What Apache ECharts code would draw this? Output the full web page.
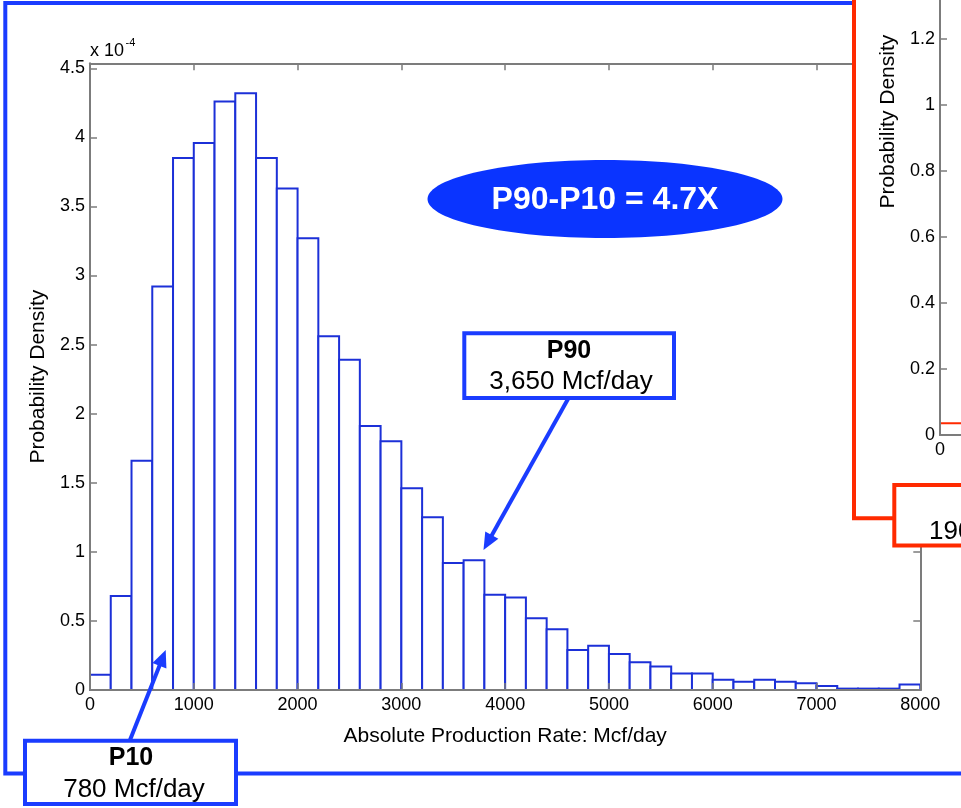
<!DOCTYPE html>
<html>
<head>
<meta charset="utf-8">
<script src="https://cdn.jsdelivr.net/npm/echarts@6/dist/echarts.min.js"></script>
<style>
  html, body { margin: 0; padding: 0; background: #ffffff; }
  #chart { width: 961px; height: 808px; }
</style>
</head>
<body>
<div id="chart"></div>
<script>
// Histogram bins: lower edge of each 200 Mcf/day bin
const binStart = [
  0, 200, 400, 600, 800, 1000, 1200, 1400, 1600, 1800,
  2000, 2200, 2400, 2600, 2800, 3000, 3200, 3400, 3600, 3800,
  4000, 4200, 4400, 4600, 4800, 5000, 5200, 5400, 5600, 5800,
  6000, 6200, 6400, 6600, 6800, 7000, 7200, 7400, 7600, 7800
];
const binWidth = 200;
// Probability density per bin, in units of 1e-4
const densityE4 = [
  0.11, 0.68, 1.66, 2.92, 3.85, 3.96, 4.26, 4.32, 3.85, 3.63,
  3.27, 2.56, 2.39, 1.91, 1.80, 1.46, 1.25, 0.92, 0.94, 0.69,
  0.67, 0.52, 0.44, 0.29, 0.32, 0.26, 0.20, 0.17, 0.12, 0.12,
  0.075, 0.06, 0.075, 0.06, 0.048, 0.029, 0.01, 0.01, 0.01, 0.04
];
const xTickValues = [0, 1000, 2000, 3000, 4000, 5000, 6000, 7000, 8000];
const yTickValues = [0, 0.5, 1, 1.5, 2, 2.5, 3, 3.5, 4, 4.5];

// Second (partially shown) panel
const insetX = [0, 0.05];
const insetY = [0.036, 0.036];
const insetYTicks = [0, 0.2, 0.4, 0.6, 0.8, 1, 1.2, 1.4, 1.6, 1.8];

// Annotation texts
const spreadText = 'P90-P10 = 4.7X';
const p90Text = ['P90', '3,650 Mcf/day'];
const p10Text = ['P10', '780 Mcf/day'];
const redBoxText = '190';
const xName = 'Absolute Production Rate: Mcf/day';
const yName = 'Probability Density';

const FONT = '"Liberation Sans", Arial, Helvetica, sans-serif';
const AXIS_GRAY = '#7c7c7c';
const BAR_BLUE = '#1c30d8';
const FRAME_BLUE = '#1a3cff';
const FILL_BLUE = '#0a34ff';
const RED = '#ff2a00';

const histData = binStart.map((s, i) => [s, s + binWidth, densityE4[i]]);
const insetData = insetX.map((x, i) => [x, insetY[i]]);

function isTick(list, v) {
  return list.some(t => Math.abs(t - v) < 1e-6);
}

function arrow(x1, y1, x2, y2, color) {
  const dx = x2 - x1, dy = y2 - y1, len = Math.hypot(dx, dy);
  const ux = dx / len, uy = dy / len, px = -uy, py = ux;
  const headLen = 17, headHalf = 7.5;
  const bx = x2 - ux * headLen, by = y2 - uy * headLen;
  return [
    { type: 'line', z: 12, shape: { x1: x1, y1: y1, x2: bx + ux * 2, y2: by + uy * 2 },
      style: { stroke: color, lineWidth: 4 } },
    { type: 'polygon', z: 12,
      shape: { points: [[x2, y2], [bx + px * headHalf, by + py * headHalf], [bx - px * headHalf, by - py * headHalf]] },
      style: { fill: color } }
  ];
}

function txt(x, y, text, size, weight, color, align, z) {
  return {
    type: 'text', x: x, y: y, z: z,
    style: { text: text, fill: color, fontSize: size, fontWeight: weight, fontFamily: FONT,
             align: align, verticalAlign: 'middle' }
  };
}

const baseAxis = {
  axisLine: { show: true, onZero: false, lineStyle: { color: AXIS_GRAY, width: 2 } },
  axisTick: { show: true, inside: true, length: 7, lineStyle: { color: AXIS_GRAY, width: 1.5 } },
  splitLine: { show: false },
  z: 3
};

const chart = echarts.init(document.getElementById('chart'), null, { renderer: 'canvas', width: 961, height: 808 });

const option = {
  animation: false,
  backgroundColor: '#ffffff',
  grid: [
    { left: 90, top: 63.3, width: 830.3, height: 626.7, outerBoundsMode: 'none', containLabel: false },
    { left: 940, top: -191.7, width: 830.3, height: 626.7, outerBoundsMode: 'none', containLabel: false }
  ],
  xAxis: [
    Object.assign({}, baseAxis, {
      type: 'value', gridIndex: 0, position: 'bottom', min: 0, max: 8000, interval: 1000,
      axisLabel: { show: true, margin: 6, color: '#000', fontSize: 18, fontFamily: FONT,
                   formatter: v => isTick(xTickValues, v) ? String(v) : '' },
      name: xName, nameLocation: 'middle', nameGap: 36,
      nameTextStyle: { color: '#000', fontSize: 21, fontFamily: FONT }
    }),
    Object.assign({}, baseAxis, {
      type: 'value', gridIndex: 0, position: 'top', min: 0, max: 8000, interval: 1000,
      axisLabel: { show: false }
    }),
    Object.assign({}, baseAxis, {
      type: 'value', gridIndex: 1, position: 'bottom', min: 0, max: 1, interval: 0.2, z: 32,
      axisLabel: { show: true, margin: 6, color: '#000', fontSize: 18, fontFamily: FONT,
                   formatter: v => String(+v.toFixed(1)) }
    })
  ],
  yAxis: [
    Object.assign({}, baseAxis, {
      type: 'value', gridIndex: 0, position: 'left', min: 0, max: 4.536, interval: 0.5,
      axisLabel: { show: true, margin: 5, color: '#000', fontSize: 18, fontFamily: FONT,
                   formatter: v => isTick(yTickValues, v) ? String(+v.toFixed(2)) : '' },
      name: yName, nameLocation: 'middle', nameGap: 34,
      nameTextStyle: { color: '#000', fontSize: 21, fontFamily: FONT }
    }),
    Object.assign({}, baseAxis, {
      type: 'value', gridIndex: 0, position: 'right', min: 0, max: 4.536, interval: 0.5,
      axisLabel: { show: false }
    }),
    Object.assign({}, baseAxis, {
      type: 'value', gridIndex: 1, position: 'left', min: 0, max: 1.9, interval: 0.2, z: 32,
      axisLabel: { show: true, margin: 5, color: '#000', fontSize: 18, fontFamily: FONT,
                   formatter: v => isTick(insetYTicks, v) ? String(+v.toFixed(1)) : '' },
      name: yName, nameLocation: 'middle', nameGap: 34,
      nameTextStyle: { color: '#000', fontSize: 21, fontFamily: FONT }
    })
  ],
  series: [
    {
      type: 'custom',
      xAxisIndex: 0, yAxisIndex: 0,
      data: histData,
      encode: { x: [0, 1], y: 2 },
      clip: false,
      z: 2,
      renderItem: function (params, api) {
        const top = api.coord([api.value(0), api.value(2)]);
        const bottom = api.coord([api.value(1), 0]);
        return {
          type: 'rect',
          shape: { x: top[0], y: top[1], width: bottom[0] - top[0], height: bottom[1] - top[1] },
          style: { fill: '#ffffff', stroke: BAR_BLUE, lineWidth: 2 }
        };
      }
    },
    {
      type: 'line',
      xAxisIndex: 2, yAxisIndex: 2,
      data: insetData,
      symbol: 'none',
      z: 31,
      lineStyle: { color: RED, width: 2 }
    }
  ],
  graphic: {
    elements: [
      // outer frame of the left panel
      { type: 'rect', z: 1, shape: { x: 5.3, y: 3, width: 1100, height: 770.5 },
        style: { fill: null, stroke: FRAME_BLUE, lineWidth: 4 } },
      // axis exponent
      txt(90, 51.5, 'x 10', 18, 'normal', '#000', 'left', 5),
      txt(125.5, 43, '-4', 11, 'normal', '#000', 'left', 5),
      // spread ellipse
      { type: 'ellipse', z: 10, shape: { cx: 605, cy: 199, rx: 177.5, ry: 39 }, style: { fill: FILL_BLUE } },
      txt(605, 200, spreadText, 32, 'bold', '#ffffff', 'center', 11),
      // P90 call-out
      { type: 'rect', z: 10, shape: { x: 464.3, y: 333.3, width: 209.7, height: 64.7 },
        style: { fill: '#ffffff', stroke: FRAME_BLUE, lineWidth: 4 } },
      txt(569, 351, p90Text[0], 25, 'bold', '#000', 'center', 11),
      txt(571, 382, p90Text[1], 26, 'normal', '#000', 'center', 11),
      ...arrow(568, 399, 483.5, 550, FRAME_BLUE),
      // P10 call-out
      { type: 'rect', z: 10, shape: { x: 25, y: 740.7, width: 211, height: 63.3 },
        style: { fill: '#ffffff', stroke: FRAME_BLUE, lineWidth: 4 } },
      txt(131, 758.5, p10Text[0], 25, 'bold', '#000', 'center', 11),
      txt(134, 790, p10Text[1], 26, 'normal', '#000', 'center', 11),
      ...arrow(130, 740, 165.7, 650, FRAME_BLUE),
      // right-hand panel cover and frame
      { type: 'rect', z: 20, shape: { x: 854, y: -10, width: 200, height: 528.3 }, style: { fill: '#ffffff' } },
      { type: 'polyline', z: 21, shape: { points: [[854, -10], [854, 518.3], [894.3, 518.3]] },
        style: { stroke: RED, lineWidth: 4, fill: null } },
      { type: 'rect', z: 40, shape: { x: 894.3, y: 485, width: 200, height: 60.5 },
        style: { fill: '#ffffff', stroke: RED, lineWidth: 4 } },
      txt(929, 532, redBoxText, 26, 'normal', '#000', 'left', 41)
    ]
  }
};

chart.setOption(option);
</script>
</body>
</html>
